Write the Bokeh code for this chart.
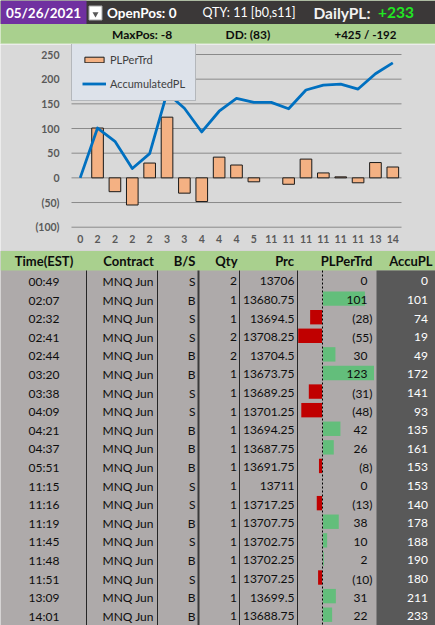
from bokeh.plotting import figure
from bokeh.models import Range1d, FixedTicker, CustomJSTickFormatter, Legend, LegendItem, ColumnDataSource
from bokeh.layouts import column
from bokeh.core.properties import value
from bokeh.embed import file_html
from bokeh.resources import INLINE

# ---------------- data ----------------
trade_date = "05/26/2021"
open_pos = 0
qty_summary = "QTY: 11 [b0,s11]"
daily_pl = 233
max_pos = -8
drawdown = 83
gross_win = 425
gross_loss = -192

times = ["00:49", "02:07", "02:32", "02:41", "02:44", "03:20", "03:38", "04:09", "04:21", "04:37",
         "05:51", "11:15", "11:16", "11:19", "11:45", "11:48", "11:51", "13:09", "14:01"]
hour_labels = ["0", "2", "2", "2", "2", "3", "3", "4", "4", "4",
               "5", "11", "11", "11", "11", "11", "11", "13", "14"]
contracts = ["MNQ Jun"] * 19
sides = ["S", "B", "S", "S", "B", "B", "S", "S", "B", "B",
         "B", "S", "S", "B", "S", "B", "S", "B", "B"]
qtys = [2, 1, 1, 2, 2, 1, 1, 1, 1, 1, 1, 1, 1, 1, 1, 1, 1, 1, 1]
prices = [13706, 13680.75, 13694.5, 13708.25, 13704.5, 13673.75, 13689.25, 13701.25, 13694.25, 13687.75,
          13691.75, 13711, 13717.25, 13707.75, 13702.75, 13702.25, 13707.25, 13699.5, 13688.75]
pl_per_trade = [0, 101, -28, -55, 30, 123, -31, -48, 42, 26, -8, 0, -13, 38, 10, 2, -10, 31, 22]
accum_pl = [0, 101, 74, 19, 49, 172, 141, 93, 135, 161, 153, 153, 140, 178, 188, 190, 180, 211, 233]
y_min, y_max = -100, 250
y_ticks = [-100, -50, 0, 50, 100, 150, 200, 250]
col_headers = ["Time(EST)", "Contract", "B/S", "Qty", "Prc", "PLPerTrd", "AccuPL"]

# ---------------- style ----------------
W = 435
FONT = "Lato"


def fs(px):
    return value(f"{px:.1f}px")


def acct(v):
    return f"({abs(v)})" if v < 0 else f"{v}"


def fmt_price(v):
    return f"{v:.2f}".rstrip("0").rstrip(".")


# ---------------- header strip ----------------
hdr = figure(width=W, height=44, x_range=Range1d(0, 435), y_range=Range1d(44, 0),
             x_axis_location=None, y_axis_location=None, toolbar_location=None,
             output_backend="svg", min_border=0, outline_line_color=None,
             background_fill_color="#a9d08e", border_fill_color="#a9d08e")
hdr.grid.grid_line_color = None
hdr.quad(left=[0], right=[435], top=[0], bottom=[23.5], fill_color="#3b3838", line_color=None)
hdr.quad(left=[0], right=[86], top=[0], bottom=[23.5], fill_color="#7030a0", line_color=None)
hdr.quad(left=[88.5], right=[101.5], top=[5.5], bottom=[19.5], fill_color="#ffffff", line_color="#a6a6a6")
hdr.scatter(x=[95], y=[13.5], marker="inverted_triangle", size=6, fill_color="#595959", line_color=None)
hdr.segment(x0=[0], y0=[43.6], x1=[435], y1=[43.6], line_color="#eef3ea", line_width=1)

hdr.text(x=[43], y=[12], text=[trade_date], text_align="center", text_baseline="middle",
         text_font=value(FONT), text_font_size=fs(13.5), text_font_style="bold", text_color="#ffffff")
hdr.text(x=[106.5], y=[12], text=[f"OpenPos: {open_pos}"], text_align="left", text_baseline="middle",
         text_font=value(FONT), text_font_size=fs(13.5), text_font_style="bold", text_color="#ffffff")
hdr.text(x=[202], y=[12], text=[qty_summary], text_align="left", text_baseline="middle",
         text_font=value(FONT), text_font_size=fs(12.5), text_color="#ffffff")
hdr.text(x=[313], y=[12], text=["DailyPL:"], text_align="left", text_baseline="middle",
         text_font=value(FONT), text_font_size=fs(15.5), text_font_style="bold", text_color="#f2f2f2")
hdr.text(x=[377.5], y=[12], text=[f"+{daily_pl}"], text_align="left", text_baseline="middle",
         text_font=value(FONT), text_font_size=fs(15.5), text_font_style="bold", text_color="#22e622")

hdr.text(x=[111.5], y=[34], text=[f"MaxPos: {max_pos}"], text_align="left", text_baseline="middle",
         text_font=value(FONT), text_font_size=fs(12), text_font_style="bold", text_color="#0d0d0d")
hdr.text(x=[225], y=[34], text=[f"DD: {acct(-drawdown)}"], text_align="left", text_baseline="middle",
         text_font=value(FONT), text_font_size=fs(12), text_font_style="bold", text_color="#0d0d0d")
hdr.text(x=[334], y=[34], text=[f"+{gross_win}  / {gross_loss}"], text_align="left", text_baseline="middle",
         text_font=value(FONT), text_font_size=fs(11.5), text_font_style="bold", text_color="#0d0d0d")

# ---------------- chart ----------------
# chart area in page pixels: x 0..435, y 44..250; plot area x 71..401, value 250 at y 54, -100 at 226.7
n = len(pl_per_trade)
idx = list(range(n))
px_x = (401 - 71) / n
px_y = (226.7 - 54) / (y_max - y_min)
xr = Range1d(-0.5 - 71 / px_x, n - 0.5 + (435 - 401) / px_x)
yr = Range1d(y_min - (250 - 226.7) / px_y, y_max + (54 - 44) / px_y)
CH = 206
p = figure(width=W, height=CH, x_range=xr, y_range=yr,
           toolbar_location=None, output_backend="svg", min_border=0,
           background_fill_color="#d9d9d9", border_fill_color="#d9d9d9", outline_line_color=None)
p.grid.grid_line_color = None
p.segment(x0=[-0.5] * len(y_ticks), y0=y_ticks, x1=[n - 0.5] * len(y_ticks), y1=y_ticks,
          line_color="#8a8a8a", line_width=1)
bar_src = ColumnDataSource(dict(x=idx, top=pl_per_trade,
                                edge=[0.0 if v == 0 else 1.0 for v in pl_per_trade]))
bars = p.vbar(x="x", top="top", bottom=0, width=0.67, source=bar_src,
              fill_color="#f4b183", line_color="#1a1a1a", line_width=1, line_alpha="edge")
ln = p.line(x=idx, y=accum_pl, line_color="#0070c0", line_width=2.8, line_join="round")

p.yaxis.ticker = FixedTicker(ticks=y_ticks)
p.yaxis.formatter = CustomJSTickFormatter(
    code="return tick < 0 ? '(' + Math.abs(tick) + ')' : String(tick);")
p.yaxis.fixed_location = -0.5
p.xaxis.ticker = FixedTicker(ticks=idx)
p.xaxis.formatter = CustomJSTickFormatter(
    args=dict(labels=hour_labels),
    code="const i = Math.round(tick); return (i >= 0 && i < labels.length) ? labels[i] : '';")
p.xaxis.fixed_location = y_min
for ax in (p.xaxis[0], p.yaxis[0]):
    ax.axis_line_color = None
    ax.major_tick_line_color = None
    ax.minor_tick_line_color = None
    ax.major_tick_out = 0
    ax.major_tick_in = 0
    ax.major_label_text_font = FONT
    ax.major_label_text_font_size = "10.5px"
    ax.major_label_text_font_style = "bold"
    ax.major_label_text_color = "#595959"
p.yaxis.major_label_standoff = 12
p.xaxis.major_label_standoff = 8

legend = Legend(items=[LegendItem(label="PLPerTrd", renderers=[bars], index=1),
                       LegendItem(label="AccumulatedPL", renderers=[ln])],
                location=(71, 149), orientation="vertical",
                background_fill_color="#dde2ea", background_fill_alpha=1,
                border_line_color="#8c8c8c", border_line_width=1,
                padding=10, spacing=11, margin=0,
                glyph_width=24, glyph_height=7, label_height=12, label_standoff=4,
                label_text_font=FONT, label_text_font_size="11px",
                label_text_color="#404040")
p.add_layout(legend)

# ---------------- table ----------------
t = figure(width=W, height=375, x_range=Range1d(0, 435), y_range=Range1d(625, 250),
           x_axis_location=None, y_axis_location=None, toolbar_location=None,
           output_backend="svg", min_border=0, outline_line_color=None,
           background_fill_color="#aeaaaa", border_fill_color="#aeaaaa")
t.grid.grid_line_color = None

body_top = 271.7
row_h = (625 - body_top) / n
row_tops = [body_top + row_h * i for i in range(n)]
yc = [rt + row_h / 2 for rt in row_tops]

t.quad(left=[0], right=[435], top=[250.6], bottom=[270], fill_color="#a9d08e", line_color=None)
t.quad(left=[376], right=[435], top=[270], bottom=[625], fill_color="#595959", line_color=None)

# data bars
axis_x = 322
k_pos = 51 / max(pl_per_trade)
k_neg = 24.3 / abs(min(pl_per_trade))
pos = [(rt, v) for rt, v in zip(row_tops, pl_per_trade) if v > 0]
neg = [(rt, v) for rt, v in zip(row_tops, pl_per_trade) if v < 0]
t.quad(left=[axis_x + 0.5] * len(pos), right=[axis_x + 0.5 + v * k_pos for _, v in pos],
       top=[rt + 0.6 for rt, _ in pos], bottom=[rt + 15 for rt, _ in pos],
       fill_color="#63be7b", line_color=None)
t.quad(left=[axis_x + v * k_neg for _, v in neg], right=[axis_x - 0.5] * len(neg),
       top=[rt + 0.6 for rt, _ in neg], bottom=[rt + 15 for rt, _ in neg],
       fill_color="#c00000", line_color=None)

# column separators
t.segment(x0=[86, 157, 239, 297], y0=[270] * 4, x1=[86, 157, 239, 297], y1=[625] * 4,
          line_color="#262626", line_width=1)
t.segment(x0=[198], y0=[270], x1=[198], y1=[625], line_color="#3a3a3a", line_width=2)
t.segment(x0=[axis_x], y0=[270], x1=[axis_x], y1=[625], line_color="#000000",
          line_width=1, line_dash="2 2")

# header texts
hx = [43.5, 153.3, 195, 237, 293.5, 372, 432]
ha = ["center", "right", "right", "right", "right", "right", "right"]
for x, a, s in zip(hx, ha, col_headers):
    t.text(x=[x], y=[260.5], text=[s], text_align=a, text_baseline="middle",
           text_font=value(FONT), text_font_size=fs(13), text_font_style="bold", text_color="#0d0d0d")


def col_text(x, texts, align="right", color="#0d0d0d"):
    t.text(x=x if isinstance(x, list) else [x] * n, y=yc, text=texts, text_align=align,
           text_baseline="middle", text_font=value(FONT), text_font_size=fs(12), text_color=color)


col_text(43.5, times, align="center")
col_text(153.3, contracts)
col_text(195, sides)
col_text(236.5, [str(q) for q in qtys])
col_text(294, [fmt_price(v) for v in prices])
col_text([372 if v < 0 else 367 for v in pl_per_trade], [acct(v) for v in pl_per_trade])
col_text(427.5, [str(v) for v in accum_pl], color="#ffffff")

layout = column(hdr, p, t, spacing=0)
open("out.html", "w").write(file_html(layout, INLINE))
